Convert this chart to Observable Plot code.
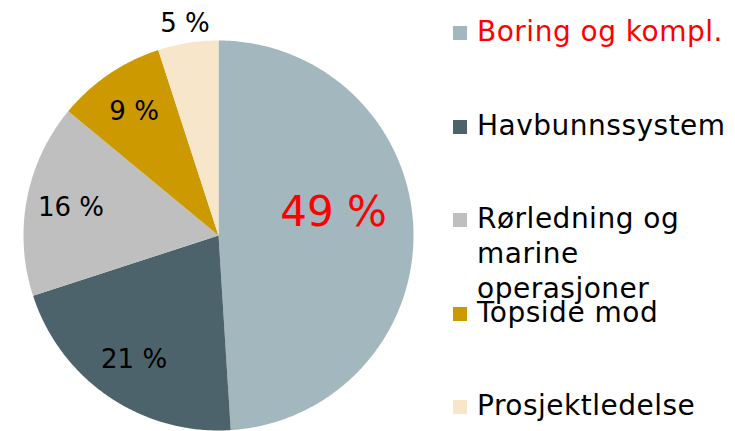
<!DOCTYPE html>
<html>
<head>
<meta charset="utf-8">
<script src="https://cdn.jsdelivr.net/npm/d3@7"></script>
<script src="https://cdn.jsdelivr.net/npm/@observablehq/plot@0.6"></script>
<style>
  html, body { margin: 0; padding: 0; background: #fff; }
  #wrap { position: relative; width: 735px; height: 431px; overflow: hidden; font-family: "DejaVu Sans", sans-serif; }
  #legend { position: absolute; left: 0; top: 0; }
  .item { position: absolute; left: 453px; width: 282px; font-size: 28px; line-height: 35px; color: #000; letter-spacing: 0.5px; }
  .sw { position: absolute; left: 0; top: 12px; width: 14px; height: 14px; }
  .lab { position: absolute; left: 24px; width: 258px; white-space: normal; }
</style>
</head>
<body>
<div id="wrap"></div>
<script>
const categories = ["Boring og kompl.", "Havbunnssystem", "Rørledning og marine operasjoner", "Topside mod", "Prosjektledelse"];
const shares = [49, 21, 16, 9, 5];
const labels = ["49 %", "21 %", "16 %", "9 %", "5 %"];
const colors = ["#A3B7BE", "#4D636B", "#BFBFBF", "#CC9A00", "#F7E6CA"];
const textColors = ["#FF0000", "#000000", "#000000", "#000000", "#000000"];

const arcs = d3.pie().sort(null).value(d => d)(shares);
const slices = arcs.map((a, i) => ({cat: categories[i], label: labels[i], share: shares[i], start: a.startAngle, end: a.endAngle, mid: (a.startAngle + a.endAngle) / 2}));

// polygon outlines of each slice (center + arc)
const pts = [];
slices.forEach((s, i) => {
  pts.push({cat: s.cat, x: 0, y: 0});
  const n = Math.max(4, Math.ceil((s.end - s.start) / 0.01));
  for (let k = 0; k <= n; k++) {
    const t = s.start + (s.end - s.start) * k / n;
    pts.push({cat: s.cat, x: Math.sin(t), y: Math.cos(t)});
  }
  pts.push({cat: s.cat, x: 0, y: 0});
});

const lr = s => (s.share < 7 ? 1.1 : 0.77);
const big = slices.filter((s, i) => i === 0);
const small = slices.filter((s, i) => i !== 0);

const cx = 218, cy = 235, R = 195;
const chart = Plot.plot({
  width: 735,
  height: 431,
  margin: 0,
  style: {fontFamily: "DejaVu Sans, sans-serif", background: "transparent"},
  x: {domain: [-1, 1], range: [cx - R, cx + R], axis: null},
  y: {domain: [-1, 1], range: [cy + R, cy - R], axis: null},
  color: {domain: categories, range: colors},
  marks: [
    Plot.line(pts, {x: "x", y: "y", z: "cat", fill: "cat", stroke: "none", curve: "linear"}),
    Plot.text(small, {x: s => lr(s) * Math.sin(s.mid), y: s => lr(s) * Math.cos(s.mid), text: "label", fill: "#000", fontSize: 26}),
    Plot.text(big, {x: s => lr(s) * Math.sin(s.mid), y: s => lr(s) * Math.cos(s.mid), text: "label", fill: textColors[0], fontSize: 42, dx: -35, dy: -18})
  ]
});

const wrap = document.getElementById("wrap");
wrap.appendChild(chart);

const legend = document.createElement("div");
legend.id = "legend";
categories.forEach((c, i) => {
  const item = document.createElement("div");
  item.className = "item";
  item.style.top = (14 + i * 93.5) + "px";
  const sw = document.createElement("div");
  sw.className = "sw";
  sw.style.background = colors[i];
  const lab = document.createElement("div");
  lab.className = "lab";
  lab.textContent = c;
  lab.style.color = textColors[i];
  item.appendChild(sw);
  item.appendChild(lab);
  legend.appendChild(item);
});
wrap.appendChild(legend);
</script>
</body>
</html>
